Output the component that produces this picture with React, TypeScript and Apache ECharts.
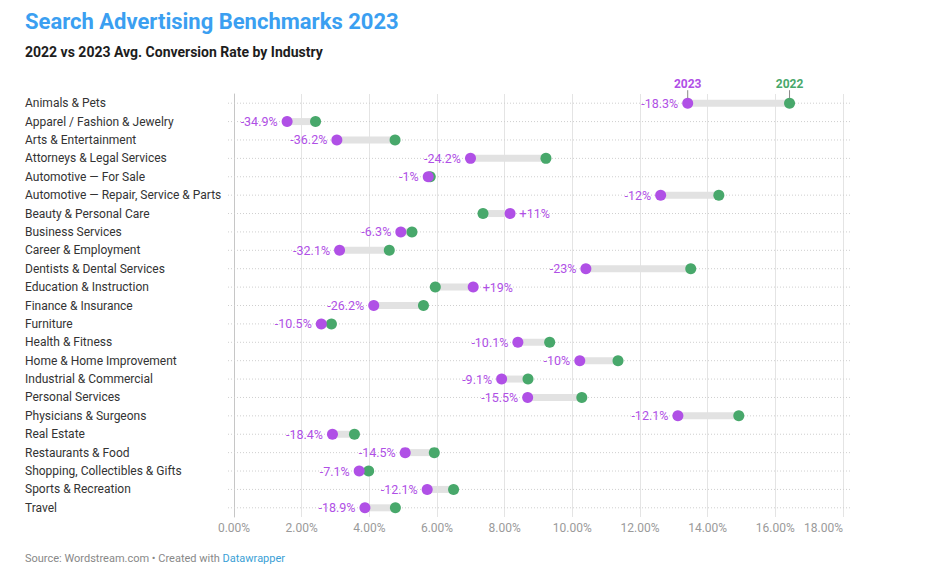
import React, { useEffect, useRef } from "react";
import * as echarts from "echarts";

const categories = [
  "Animals & Pets",
  "Apparel / Fashion & Jewelry",
  "Arts & Entertainment",
  "Attorneys & Legal Services",
  "Automotive — For Sale",
  "Automotive — Repair, Service & Parts",
  "Beauty & Personal Care",
  "Business Services",
  "Career & Employment",
  "Dentists & Dental Services",
  "Education & Instruction",
  "Finance & Insurance",
  "Furniture",
  "Health & Fitness",
  "Home & Home Improvement",
  "Industrial & Commercial",
  "Personal Services",
  "Physicians & Surgeons",
  "Real Estate",
  "Restaurants & Food",
  "Shopping, Collectibles & Gifts",
  "Sports & Recreation",
  "Travel",
];

const rate2022 = [
  16.42, 2.41, 4.76, 9.22, 5.8, 14.33, 7.36, 5.26, 4.59, 13.5, 5.95, 5.6, 2.88,
  9.33, 11.35, 8.69, 10.28, 14.92, 3.56, 5.92, 3.98, 6.49, 4.77,
];

const rate2023 = [
  13.41, 1.57, 3.04, 6.99, 5.74, 12.61, 8.16, 4.93, 3.12, 10.4, 7.07, 4.13, 2.58,
  8.39, 10.22, 7.91, 8.68, 13.12, 2.91, 5.06, 3.7, 5.71, 3.87,
];

const changePct = [
  -18.3, -34.9, -36.2, -24.2, -1, -12, 11, -6.3, -32.1, -23, 19, -26.2, -10.5,
  -10.1, -10, -9.1, -15.5, -12.1, -18.4, -14.5, -7.1, -12.1, -18.9,
];

const xTicks = { min: 0, max: 18, interval: 2 };

const PURPLE = "#b050e6";
const GREEN = "#48a86b";
const FONT = "Roboto";

export default function App() {
  const ref = useRef<HTMLDivElement>(null);

  useEffect(() => {
    if (!ref.current) return;
    const chart = echarts.init(ref.current, null, { renderer: "svg" });

    const option: any = {
      animation: false,
      textStyle: { fontFamily: FONT },
      title: [
        {
          text: "Search Advertising Benchmarks 2023",
          left: 25,
          top: 10,
          padding: 0,
          textStyle: {
            fontFamily: FONT,
            fontSize: 22,
            fontWeight: "bold",
            color: "#3b9ff1",
          },
        },
        {
          text: "2022 vs 2023 Avg. Conversion Rate by Industry",
          left: 25,
          top: 45,
          padding: 0,
          textStyle: {
            fontFamily: FONT,
            fontSize: 14,
            fontWeight: "bold",
            color: "#1d1d1d",
          },
        },
      ],
      grid: { left: 234, right: 106, top: 94, bottom: 65, containLabel: false },
      xAxis: {
        type: "value",
        min: xTicks.min,
        max: xTicks.max,
        interval: xTicks.interval,
        axisLine: { show: false },
        axisTick: { show: false },
        splitLine: { show: true, lineStyle: { color: "#e4e4e4", width: 1 } },
        axisLabel: {
          color: "#9a9a9a",
          fontSize: 12,
          fontFamily: FONT,
          margin: 5,
          alignMaxLabel: "right",
          formatter: (v: number) => v.toFixed(2) + "%",
        },
      },
      yAxis: {
        type: "category",
        data: categories,
        inverse: true,
        axisLine: { show: true, lineStyle: { color: "#c6c6c6", width: 1 } },
        axisTick: { show: false },
        splitLine: { show: false },
        axisLabel: {
          align: "left",
          margin: 209,
          color: "#333333",
          fontSize: 12,
          fontFamily: FONT,
        },
      },
      series: [
        {
          type: "custom",
          name: "rows",
          silent: true,
          z: 1,
          encode: { x: 0, y: 1 },
          data: categories.map((_, i) => [xTicks.min, i]),
          renderItem: (params: any, api: any) => {
            const idx = api.value(1);
            const p0 = api.coord([xTicks.min, idx]);
            const p1 = api.coord([xTicks.max, idx]);
            return {
              type: "line",
              shape: { x1: p0[0] - 6, y1: p0[1], x2: p1[0] + 7, y2: p1[1] },
              style: { stroke: "#cfcfcf", lineWidth: 1, lineDash: [1, 2] },
            };
          },
        },
        {
          type: "custom",
          name: "connector",
          silent: true,
          z: 2,
          encode: { x: [0, 1], y: 2 },
          data: categories.map((_, i) => [rate2022[i], rate2023[i], i]),
          renderItem: (params: any, api: any) => {
            const idx = api.value(2);
            const a = api.coord([api.value(0), idx]);
            const b = api.coord([api.value(1), idx]);
            return {
              type: "line",
              shape: { x1: a[0], y1: a[1], x2: b[0], y2: b[1] },
              style: { stroke: "#e2e2e2", lineWidth: 7 },
            };
          },
        },
        {
          type: "scatter",
          name: "2022",
          z: 3,
          symbolSize: 11,
          itemStyle: { color: GREEN, opacity: 1 },
          data: rate2022.map((v, i) => [v, i]),
        },
        {
          type: "scatter",
          name: "2023",
          z: 4,
          symbolSize: 11,
          itemStyle: { color: PURPLE, opacity: 1 },
          data: rate2023.map((v, i) => ({
            value: [v, i],
            label: {
              show: true,
              position: changePct[i] >= 0 ? "right" : "left",
              distance: 4,
              color: PURPLE,
              fontSize: 12.5,
              fontFamily: FONT,
              formatter: () =>
                (changePct[i] > 0 ? "+" : "") + changePct[i] + "%",
            },
          })),
        },
        {
          type: "custom",
          name: "header",
          silent: true,
          z: 5,
          encode: { x: 0, y: 1 },
          data: [
            [rate2023[0], 0, 0],
            [rate2022[0], 0, 1],
          ],
          renderItem: (params: any, api: any) => {
            const p = api.coord([api.value(0), api.value(1)]);
            const is2022 = api.value(2) === 1;
            return {
              type: "group",
              children: [
                {
                  type: "line",
                  shape: { x1: p[0], y1: p[1] - 13, x2: p[0], y2: p[1] - 5 },
                  style: { stroke: "#8a8a8a", lineWidth: 1 },
                },
                {
                  type: "text",
                  x: p[0],
                  y: p[1] - 19,
                  style: {
                    text: is2022 ? "2022" : "2023",
                    fill: is2022 ? GREEN : PURPLE,
                    font: `bold 12px ${FONT}`,
                    textAlign: "center",
                    textVerticalAlign: "middle",
                  },
                },
              ],
            };
          },
        },
      ],
      graphic: [
        {
          type: "text",
          left: 25,
          top: 553,
          style: {
            text: "Source: Wordstream.com • Created with {a|Datawrapper}",
            fill: "#888888",
            font: `11px ${FONT}`,
            rich: {
              a: { fill: "#3a9fd6", fontSize: 11, fontFamily: FONT },
            },
          },
        },
      ],
    };

    chart.setOption(option);
    return () => chart.dispose();
  }, []);

  return (
    <div
      ref={ref}
      style={{ position: "fixed", left: 0, top: 0, width: 949, height: 582, background: "#fff" }}
    />
  );
}
